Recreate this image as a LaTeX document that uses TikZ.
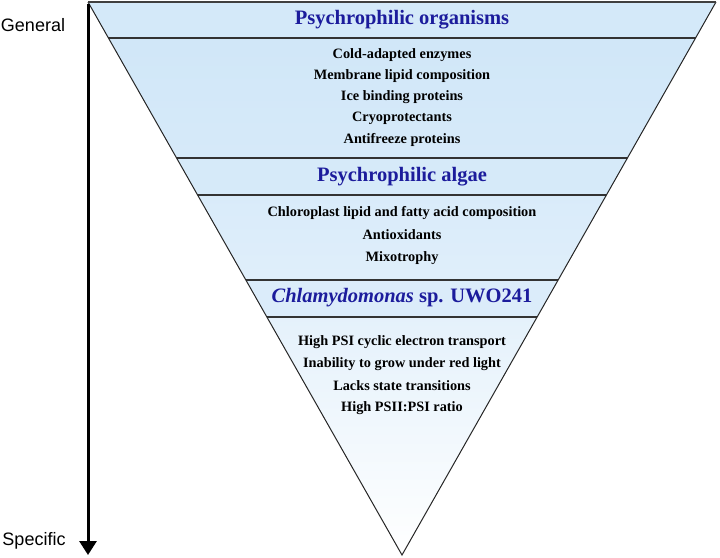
\documentclass[tikz,border=0pt]{standalone}
\usepackage{fontspec}
\setmainfont{Liberation Serif}
\newfontfamily\lsans{Liberation Sans}
\usetikzlibrary{arrows.meta}
\definecolor{hblue}{HTML}{1C1C9C}
\definecolor{band}{HTML}{CFE6F8}
\begin{document}
\begin{tikzpicture}[x=1pt,y=-1pt,
  head/.style={font=\bfseries\fontsize{20.5}{22}\selectfont,text=hblue,inner sep=0pt},
  item/.style={font=\bfseries\fontsize{14.3}{16}\selectfont,inner sep=0pt},
  side/.style={font=\lsans\fontsize{18}{20}\selectfont,inner sep=0pt},
  sep/.style={line width=1.3pt,draw=black!80}]
\useasboundingbox (0,0) rectangle (720,557);
\coordinate (L) at (88,2);
\coordinate (R) at (716,2);
\coordinate (A) at (402,555);
\begin{scope}
\clip (L) -- (R) -- (A) -- cycle;
\shade[top color=band,bottom color=band!60!white,middle color=band!85!white] (0,2) rectangle (720,317);
\shade[top color=band!55!white,bottom color=white] (0,317) rectangle (720,557);
\fill[band!90!white] (0,2) rectangle (720,38);
\fill[band!85!white] (0,158) rectangle (720,195);
\fill[band!75!white] (0,280) rectangle (720,317);
\foreach \y in {38,158,195,280,317} \draw[sep] (0,\y) -- (720,\y);
\end{scope}
\draw[line width=1pt,black!85] (L) -- (A) -- (R);
\draw[line width=2pt,black!75] (L) -- (R);
\coordinate (t0) at (88,4);
\coordinate (t1) at (88,555);
\draw[line width=3pt,-{Triangle[length=14pt,width=17pt]}] (t0) -- (t1);
\node[side] (gen) at (33,25) {General};
\node[side] (spe) at (34,541) {Specific};
\node[head] (h1) at (402,20) {Psychrophilic organisms};
\node[item] (a1) at (402,55) {Cold-adapted enzymes};
\node[item] (a2) at (402,76) {Membrane lipid composition};
\node[item] (a3) at (402,97) {Ice binding proteins};
\node[item] (a4) at (402,118) {Cryoprotectants};
\node[item] (a5) at (402,140) {Antifreeze proteins};
\node[head] (h2) at (402,177) {Psychrophilic algae};
\node[item] (b1) at (402,213) {Chloroplast lipid and fatty acid composition};
\node[item] (b2) at (402,235) {Antioxidants};
\node[item] (b3) at (402,258) {Mixotrophy};
\node[head] (h3) at (402,298) {\textit{Chlamydomonas} sp. UWO241};
\node[item] (c1) at (402,342) {High PSI cyclic electron transport};
\node[item] (c2) at (402,364) {Inability to grow under red light};
\node[item] (c3) at (402,386) {Lacks state transitions};
\node[item] (c4) at (402,408) {High PSII:PSI ratio};
\end{tikzpicture}
\end{document}
